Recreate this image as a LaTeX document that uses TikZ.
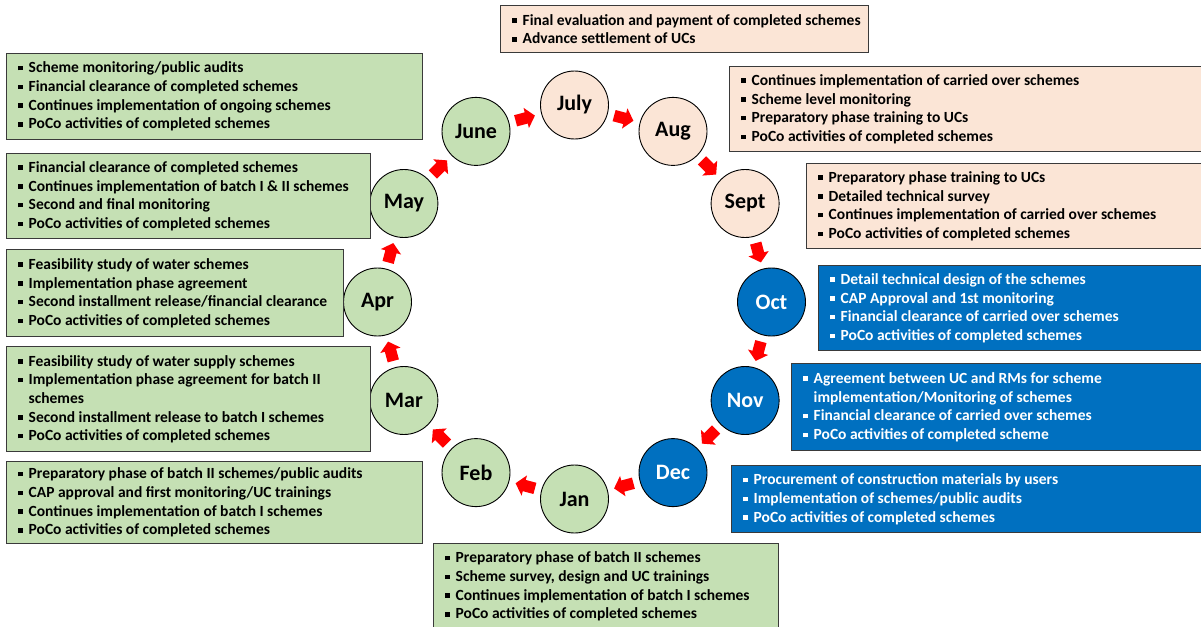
\documentclass[tikz,border=0pt]{standalone}
\usepackage{fontspec}
\setmainfont{Carlito}
\usetikzlibrary{calc}
\definecolor{grn}{HTML}{C5E0B4}
\definecolor{pch}{HTML}{FBE5D6}
\definecolor{blu}{HTML}{0070C0}
\definecolor{bord}{HTML}{3A3A3A}
\newcommand\bul{\makebox[10.5pt][l]{\raisebox{2.4pt}{\rule{4.5pt}{4.5pt}}}}
\newcommand\nob{\hspace*{10.5pt}}
\begin{document}
\begin{tikzpicture}[x=1pt,y=1pt,
  month/.style={circle, draw=black, line width=0.9pt, minimum size=68pt, inner sep=0pt, font=\fontsize{22}{22}\selectfont\bfseries},
  infobox/.style={draw=bord, line width=1.4pt, anchor=north west, inner sep=0pt},
  infotext/.style={anchor=west, align=left, inner sep=0pt, font=\fontsize{15.5}{18.7}\selectfont\bfseries},
  redarrow/.pic={\fill[red] (-10,-5.8) -- (1,-5.8) -- (1,-10.5) -- (10,0) -- (1,10.5) -- (1,5.8) -- (-10,5.8) -- cycle;}
]
\useasboundingbox (0,0) rectangle (1201,-626);
\coordinate (c) at (574.5,-302);
% month circles
\node[month, fill=grn] (june) at ($(c)+(120:197)$) {June};
\node[month, fill=pch] (july) at ($(c)+(90:197)$) {July};
\node[month, fill=pch] (aug)  at ($(c)+(60:197)$) {Aug};
\node[month, fill=pch] (sept) at ($(c)+(30:197)$) {Sept};
\node[month, fill=blu, text=white] (oct) at ($(c)+(0:197)$) {Oct};
\node[month, fill=blu, text=white] (nov) at ($(c)+(-30:197)$) {Nov};
\node[month, fill=blu, text=white] (dec) at ($(c)+(-60:197)$) {Dec};
\node[month, fill=grn] (jan) at ($(c)+(-90:197)$) {Jan};
\node[month, fill=grn] (feb) at ($(c)+(-120:197)$) {Feb};
\node[month, fill=grn] (mar) at ($(c)+(-150:197)$) {Mar};
\node[month, fill=grn] (apr) at ($(c)+(180:197)$) {Apr};
\node[month, fill=grn] (may) at ($(c)+(150:197)$) {May};
% arrows
\path ($(june)!0.5!(july)$) pic[rotate=15] {redarrow};
\path ($(july)!0.5!(aug)$) pic[rotate=-15] {redarrow};
\path ($(aug)!0.5!(sept)$) pic[rotate=-45] {redarrow};
\path ($(sept)!0.5!(oct)$) pic[rotate=-75] {redarrow};
\path ($(oct)!0.5!(nov)$) pic[rotate=-105] {redarrow};
\path ($(nov)!0.5!(dec)$) pic[rotate=-135] {redarrow};
\path ($(dec)!0.5!(jan)$) pic[rotate=-165] {redarrow};
\path ($(jan)!0.5!(feb)$) pic[rotate=165] {redarrow};
\path ($(feb)!0.5!(mar)$) pic[rotate=135] {redarrow};
\path ($(mar)!0.5!(apr)$) pic[rotate=105] {redarrow};
\path ($(apr)!0.5!(may)$) pic[rotate=75] {redarrow};
\path ($(may)!0.5!(june)$) pic[rotate=45] {redarrow};
% boxes
\node[infobox, fill=pch, minimum width=368pt, minimum height=47pt] (julybox) at (500,-5) {};
\node[infotext] at ([xshift=12pt]julybox.west) {\bul Final evaluation and payment of completed schemes\\\bul Advance settlement of UCs};
\node[infobox, fill=pch, minimum width=472pt, minimum height=85pt] (augbox) at (729,-66) {};
\node[infotext] at ([xshift=12pt]augbox.west) {\bul Continues implementation of carried over schemes\\\bul Scheme level monitoring\\\bul Preparatory phase training to UCs\\\bul PoCo activities of completed schemes};
\node[infobox, fill=pch, minimum width=395pt, minimum height=85pt] (septbox) at (806,-163) {};
\node[infotext] at ([xshift=12pt]septbox.west) {\bul Preparatory phase training to UCs\\\bul Detailed technical survey\\\bul Continues implementation of carried over schemes\\\bul PoCo activities of completed schemes};
\node[infobox, fill=blu, minimum width=383pt, minimum height=85pt] (octbox) at (818,-265) {};
\node[infotext, text=white] at ([xshift=12pt]octbox.west) {\bul Detail technical design of the schemes\\\bul CAP Approval and 1st monitoring\\\bul Financial clearance of carried over schemes\\\bul PoCo activities of completed schemes};
\node[infobox, fill=blu, minimum width=410pt, minimum height=87pt] (novbox) at (791,-363) {};
\node[infotext, text=white] at ([xshift=12pt]novbox.west) {\bul Agreement between UC and RMs for scheme\\\nob implementation/Monitoring of schemes\\\bul Financial clearance of carried over schemes\\\bul PoCo activities of completed scheme};
\node[infobox, fill=blu, minimum width=470pt, minimum height=67pt] (decbox) at (731,-465) {};
\node[infotext, text=white] at ([xshift=12pt]decbox.west) {\bul Procurement of construction materials by users\\\bul Implementation of schemes/public audits\\\bul PoCo activities of completed schemes};
\node[infobox, fill=grn, minimum width=345pt, minimum height=86pt] (janbox) at (433,-543) {};
\node[infotext] at ([xshift=12pt]janbox.west) {\bul Preparatory phase of batch II schemes\\\bul Scheme survey, design and UC trainings\\\bul Continues implementation of batch I schemes\\\bul PoCo activities of completed schemes};
\node[infobox, fill=grn, minimum width=416pt, minimum height=82pt] (febbox) at (6,-461) {};
\node[infotext] at ([xshift=12pt]febbox.west) {\bul Preparatory phase of batch II schemes/public audits\\\bul CAP approval and first monitoring/UC trainings\\\bul Continues implementation of batch I schemes\\\bul PoCo activities of completed schemes};
\node[infobox, fill=grn, minimum width=364pt, minimum height=105pt] (marbox) at (6,-346) {};
\node[infotext] at ([xshift=12pt]marbox.west) {\bul Feasibility study of water supply schemes\\\bul Implementation phase agreement for batch II\\\nob schemes\\\bul Second installment release to batch I schemes\\\bul PoCo activities of completed schemes};
\node[infobox, fill=grn, minimum width=337pt, minimum height=87pt] (aprbox) at (6,-249) {};
\node[infotext] at ([xshift=12pt]aprbox.west) {\bul Feasibility study of water schemes\\\bul Implementation phase agreement\\\bul Second installment release/financial clearance\\\bul PoCo activities of completed schemes};
\node[infobox, fill=grn, minimum width=364pt, minimum height=85pt] (maybox) at (6,-153) {};
\node[infotext] at ([xshift=12pt]maybox.west) {\bul Financial clearance of completed schemes\\\bul Continues implementation of batch I \& II schemes\\\bul Second and final monitoring\\\bul PoCo activities of completed schemes};
\node[infobox, fill=grn, minimum width=416pt, minimum height=86pt] (junebox) at (6,-53) {};
\node[infotext] at ([xshift=12pt]junebox.west) {\bul Scheme monitoring/public audits\\\bul Financial clearance of completed schemes\\\bul Continues implementation of ongoing schemes\\\bul PoCo activities of completed schemes};
\end{tikzpicture}
\end{document}
